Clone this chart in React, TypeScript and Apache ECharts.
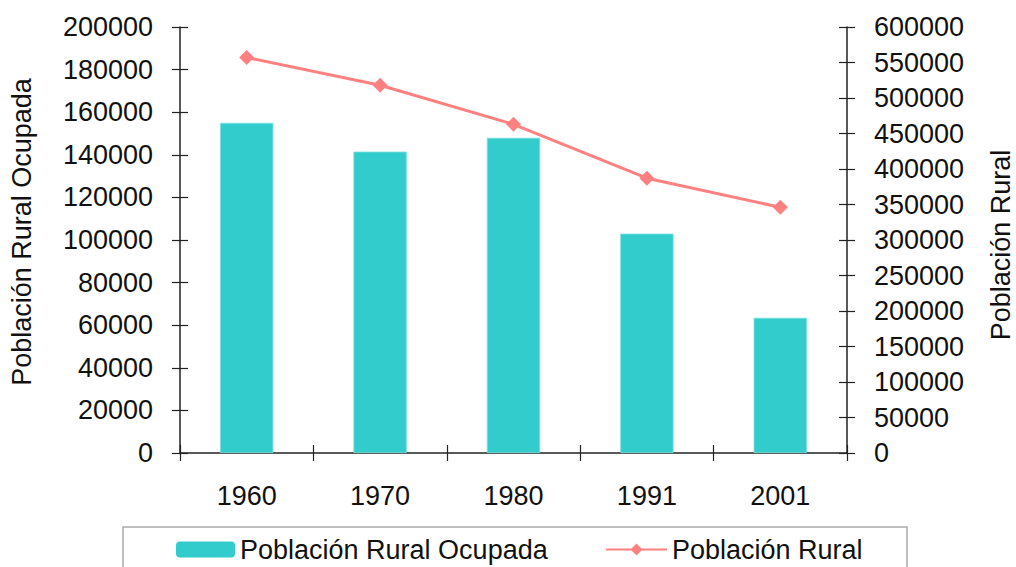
import React, { useEffect, useRef } from "react";
import * as echarts from "echarts";

const categories = ["1960", "1970", "1980", "1991", "2001"];
const ocupadaValues = [155000, 141500, 148000, 103000, 63500];
const ruralValues = [557000, 518000, 463000, 387000, 346000];
const leftTitle = "Población Rural Ocupada";
const rightTitle = "Población Rural";
const seriesBarName = "Población Rural Ocupada";
const seriesLineName = "Población Rural";

const FONT = "'Liberation Sans', Arial, Helvetica, sans-serif";
const FS = 27;
const AX = "#222";
const BAR = "#33CCCC";
const LINE = "#FF8080";

export default function App() {
  const ref = useRef<HTMLDivElement>(null);
  useEffect(() => {
    if (!ref.current) return;
    const chart = echarts.init(ref.current, null, { renderer: "svg" });
    const labelStyle = { color: "#111", fontSize: FS, fontFamily: FONT };
    const yBase = (pos: string, max: number, interval: number, inside: boolean, showLabel: boolean, showLine: boolean) => ({
      type: "value",
      position: pos,
      min: 0,
      max,
      interval,
      axisLine: { show: showLine, lineStyle: { color: AX, width: 1.5 } },
      axisTick: { show: true, inside, length: 8, lineStyle: { color: AX, width: 1.2 } },
      axisLabel: { show: showLabel, ...labelStyle, margin: 27, formatter: (v: number) => String(v) },
      splitLine: { show: false },
    });
    chart.setOption({
      animation: false,
      textStyle: { fontFamily: FONT },
      grid: { left: 180, right: 169, top: 27, bottom: 114, containLabel: false },
      xAxis: [
        {
          type: "category",
          data: categories,
          position: "bottom",
          axisLine: { show: true, lineStyle: { color: AX, width: 1.5 } },
          axisTick: { show: true, inside: false, length: 8, lineStyle: { color: AX, width: 1.2 } },
          axisLabel: { ...labelStyle, margin: 29 },
          splitLine: { show: false },
        },
        {
          type: "category",
          data: categories,
          position: "bottom",
          axisLine: { show: false },
          axisTick: { show: true, inside: true, length: 8, lineStyle: { color: AX, width: 1.2 } },
          axisLabel: { show: false },
          splitLine: { show: false },
        },
      ],
      yAxis: [
        yBase("left", 200000, 20000, false, true, true),
        yBase("right", 600000, 50000, false, true, true),
        yBase("left", 200000, 20000, true, false, false),
        yBase("right", 600000, 50000, true, false, false),
      ],
      legend: [
        {
          data: [seriesBarName],
          left: 176,
          top: 536,
          padding: 0,
          itemWidth: 59,
          itemHeight: 16,
          itemStyle: { borderWidth: 0 },
          textStyle: { ...labelStyle },
          selectedMode: false,
        },
        {
          data: [seriesLineName],
          left: 605,
          top: 536,
          padding: 0,
          itemWidth: 61,
          itemHeight: 15,
          textStyle: { ...labelStyle },
          selectedMode: false,
        },
      ],
      graphic: [
        {
          type: "rect",
          shape: { x: 123, y: 527, width: 784, height: 60 },
          style: { fill: "none", stroke: "#aaa", lineWidth: 1.5 },
          silent: true,
        },
        {
          type: "text",
          x: 22,
          y: 232,
          rotation: Math.PI / 2,
          style: { text: leftTitle, fill: "#111", fontSize: FS, fontFamily: FONT, align: "center", verticalAlign: "middle" },
        },
        {
          type: "text",
          x: 1001,
          y: 245,
          rotation: Math.PI / 2,
          style: { text: rightTitle, fill: "#111", fontSize: FS, fontFamily: FONT, align: "center", verticalAlign: "middle" },
        },
      ],
      series: [
        {
          name: seriesBarName,
          type: "bar",
          xAxisIndex: 0,
          yAxisIndex: 0,
          data: ocupadaValues,
          barWidth: "40%",
          itemStyle: { color: BAR, borderColor: "#7fe0e0", borderWidth: 0.8 },
        },
        {
          name: seriesLineName,
          type: "line",
          xAxisIndex: 0,
          yAxisIndex: 1,
          data: ruralValues,
          symbol: "diamond",
          symbolSize: 15,
          lineStyle: { color: LINE, width: 3 },
          itemStyle: { color: LINE },
        },
      ],
    });
    return () => chart.dispose();
  }, []);
  return <div ref={ref} style={{ width: 1016, height: 567, position: "absolute", left: 0, top: 0 }} />;
}
